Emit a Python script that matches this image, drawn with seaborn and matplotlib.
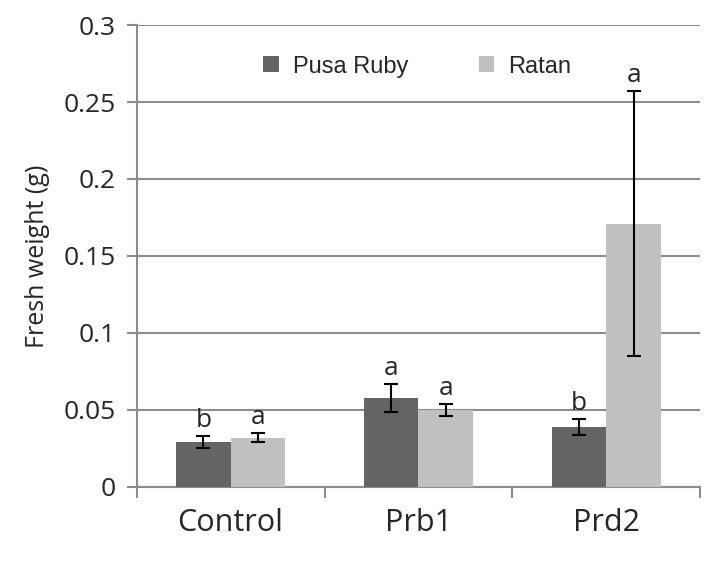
import pandas as pd
import seaborn as sns
import matplotlib.pyplot as plt

# Data
treatments = ["Control", "Prb1", "Prd2"]
varieties = ["Pusa Ruby", "Ratan"]
pusa_ruby = [0.029, 0.058, 0.039]
ratan = [0.032, 0.050, 0.171]
pusa_ruby_err = [0.004, 0.009, 0.005]
ratan_err = [0.003, 0.004, 0.086]
pusa_ruby_letters = ["b", "a", "b"]
ratan_letters = ["a", "a", "a"]

df = pd.DataFrame({
    "Treatment": treatments * 2,
    "Variety": [varieties[0]] * 3 + [varieties[1]] * 3,
    "Weight": pusa_ruby + ratan,
})
errs = {varieties[0]: pusa_ruby_err, varieties[1]: ratan_err}
letters = {varieties[0]: pusa_ruby_letters, varieties[1]: ratan_letters}

sns.set_style("white")
plt.rcParams["font.family"] = ["Open Sans", "DejaVu Sans"]

fig = plt.figure(figsize=(7.19, 5.62), dpi=100)
ax = fig.add_axes([0.19, 0.1335, 0.784, 0.822])

sns.barplot(data=df, x="Treatment", y="Weight", hue="Variety",
            palette=["#646464", "#c0c0c0"], width=0.58, ax=ax,
            saturation=1, errorbar=None, linewidth=0, zorder=3)

# error bars and significance letters
for container, var in zip(ax.containers, varieties):
    for bar, e, lab in zip(container, errs[var], letters[var]):
        x = bar.get_x() + bar.get_width() / 2
        h = bar.get_height()
        ax.errorbar(x, h, yerr=e, color="black", capsize=5, elinewidth=1.5,
                    capthick=1.5, zorder=4)
        ax.text(x, h + e + 0.002, lab, ha="center", va="bottom", fontsize=19)

ax.set_ylim(0, 0.3)
ax.set_xlim(-0.5, 2.5)
ax.set_yticks([0, 0.05, 0.1, 0.15, 0.2, 0.25, 0.3])
ax.set_yticklabels(["0", "0.05", "0.1", "0.15", "0.2", "0.25", "0.3"], fontsize=19)
ax.yaxis.grid(True, color="#8c8c8c", linewidth=1.5, zorder=0)
ax.set_axisbelow(True)

ax.set_xticks([0, 1, 2])
ax.set_xticklabels(treatments, fontsize=22)
ax.set_xticks([-0.5, 0.5, 1.5, 2.5], minor=True)
ax.tick_params(axis="x", which="major", length=0, pad=15)
ax.tick_params(axis="x", which="minor", length=8, width=1.5, color="#8c8c8c",
               direction="out", bottom=True)
ax.tick_params(axis="y", length=7, width=1.5, color="#8c8c8c", direction="out",
               left=True, pad=8)

ax.set_xlabel("")
ax.set_ylabel("Fresh weight (g)", fontsize=18, labelpad=10)

for side in ["top", "right"]:
    ax.spines[side].set_visible(False)
for side in ["left", "bottom"]:
    ax.spines[side].set_color("#8c8c8c")
    ax.spines[side].set_linewidth(1.5)

leg = ax.legend(loc="center", bbox_to_anchor=(0.498, 0.91), ncol=2, frameon=False,
                handlelength=0.65, handleheight=0.65, handletextpad=0.6,
                columnspacing=3.0, prop={"family": "Liberation Sans", "size": 17})

fig.savefig("out.png", dpi=100)
